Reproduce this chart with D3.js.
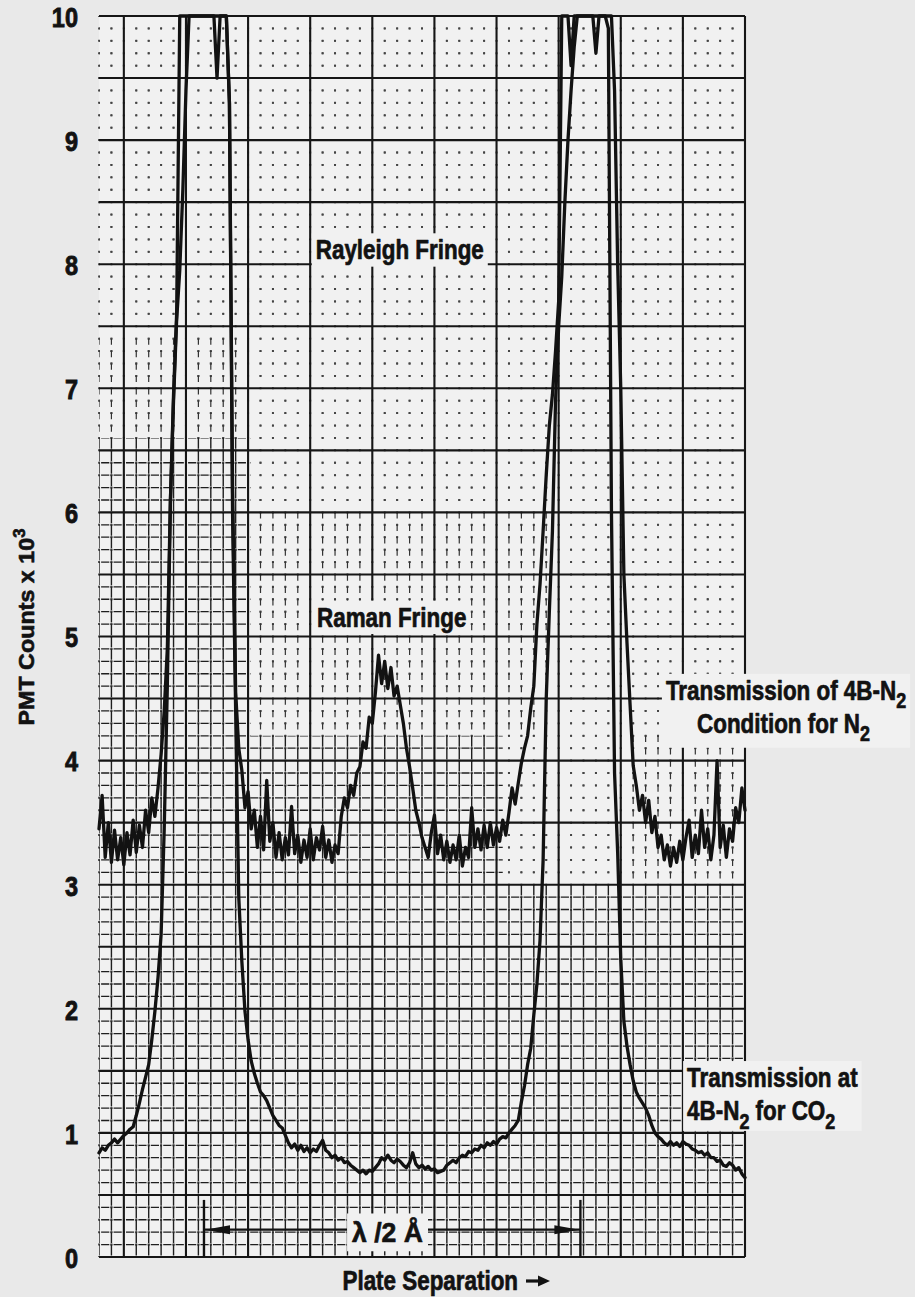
<!DOCTYPE html>
<html>
<head>
<meta charset="utf-8">
<script src="https://cdn.jsdelivr.net/npm/d3@7"></script>
<style>
  html, body { margin: 0; padding: 0; background: #e9e9e9; }
  svg { display: block; }
</style>
</head>
<body>
<svg id="chart" width="915" height="1297"></svg>
<script>
// Chart recorder trace: plate separation (chart divisions) vs PMT counts (x 1000).
// Both traces are sampled every quarter division, from 0 to 52 divisions.
const sampleStep = 0.25;
const sepMax = 52;
const countMax = 10;

// Transmission of the 4B-N2 condition for N2 (upper trace)
const n2Counts = [
  3.45, 3.72, 3.22, 3.50, 3.18, 3.44, 3.20, 3.38, 3.16, 3.42,
  3.24, 3.52, 3.26, 3.48, 3.30, 3.60, 3.42, 3.70, 3.55, 3.78,
  4.05, 4.40, 4.90, 6.10, 6.95, 7.60, 10, 10, 10, 10,
  10, 10, 10, 10, 10, 10, 10, 10, 10, 10,
  10, 10, 9.30, 6.20, 4.55, 4.10, 3.92, 3.62, 3.75, 3.45,
  3.60, 3.30, 3.55, 3.28, 3.84, 3.35, 3.50, 3.22, 3.42, 3.20,
  3.38, 3.24, 3.63, 3.25, 3.40, 3.18, 3.36, 3.22, 3.45, 3.20,
  3.38, 3.28, 3.47, 3.22, 3.36, 3.18, 3.32, 3.25, 3.55, 3.70,
  3.62, 3.80, 3.72, 3.90, 3.95, 4.15, 4.10, 4.35, 4.30, 4.55,
  4.85, 4.62, 4.80, 4.58, 4.75, 4.52, 4.60, 4.45, 4.30, 4.10,
  3.95, 3.78, 3.60, 3.50, 3.38, 3.30, 3.22, 3.42, 3.56, 3.25,
  3.40, 3.20, 3.35, 3.18, 3.32, 3.20, 3.40, 3.15, 3.30, 3.22,
  3.62, 3.30, 3.45, 3.28, 3.48, 3.30, 3.50, 3.32, 3.46, 3.35,
  3.52, 3.40, 3.58, 3.78, 3.65, 3.82, 3.98, 4.10, 4.20, 4.42,
  4.60, 5.10, 5.42, 5.85, 6.30, 6.70, 6.95, 7.30, 7.70, 10,
  10, 10, 9.60, 10, 10, 10, 10, 10, 10, 10,
  9.70, 10, 10, 10, 10, 10, 9.40, 8.00, 7.00, 5.50,
  4.95, 4.45, 3.96, 3.80, 3.60, 3.72, 3.50, 3.68, 3.42, 3.55,
  3.30, 3.40, 3.20, 3.32, 3.15, 3.30, 3.18, 3.35, 3.20, 3.38,
  3.52, 3.22, 3.40, 3.25, 3.60, 3.30, 3.45, 3.20, 3.40, 4.00,
  3.30, 3.48, 3.22, 3.45, 3.35, 3.62, 3.50, 3.78, 3.60
];

// Transmission at 4B-N2 for CO2 (lower trace)
const co2Counts = [
  0.84, 0.88, 0.86, 0.90, 0.92, 0.95, 0.92, 0.95, 0.98, 1.00,
  1.03, 1.05, 1.14, 1.24, 1.35, 1.45, 1.55, 1.75, 1.98, 2.25,
  2.60, 3.45, 4.60, 6.10, 6.90, 7.55, 7.95, 8.60, 9.40, 10,
  10, 10, 10, 10, 10, 10, 10, 10, 9.50, 10,
  10, 10, 9.30, 6.00, 4.40, 2.90, 2.38, 1.98, 1.75, 1.58,
  1.48, 1.40, 1.33, 1.30, 1.26, 1.20, 1.14, 1.10, 1.06, 1.04,
  0.98, 0.92, 0.88, 0.91, 0.86, 0.90, 0.85, 0.88, 0.84, 0.87,
  0.85, 0.90, 0.94, 0.86, 0.84, 0.80, 0.82, 0.78, 0.80, 0.76,
  0.77, 0.74, 0.72, 0.70, 0.68, 0.70, 0.67, 0.70, 0.69, 0.72,
  0.75, 0.80, 0.78, 0.82, 0.78, 0.76, 0.79, 0.77, 0.74, 0.72,
  0.76, 0.84, 0.75, 0.72, 0.74, 0.71, 0.73, 0.70, 0.71, 0.68,
  0.69, 0.70, 0.74, 0.76, 0.78, 0.76, 0.80, 0.82, 0.81, 0.85,
  0.84, 0.87, 0.86, 0.90, 0.88, 0.92, 0.90, 0.93, 0.91, 0.95,
  0.97, 0.96, 1.00, 1.03, 1.06, 1.10, 1.25, 1.38, 1.55, 1.68,
  1.95, 2.20, 2.55, 3.20, 4.50, 5.20, 5.85, 6.90, 7.50, 7.90,
  8.50, 9.00, 9.40, 9.75, 10, 10, 10, 10, 10, 10,
  10, 10, 10, 10, 9.90, 6.00, 3.90, 3.26, 2.40, 1.90,
  1.70, 1.55, 1.42, 1.33, 1.28, 1.24, 1.20, 1.14, 1.06, 1.00,
  0.97, 0.95, 0.92, 0.90, 0.93, 0.90, 0.92, 0.89, 0.93, 0.91,
  0.90, 0.87, 0.86, 0.84, 0.85, 0.82, 0.84, 0.80, 0.80, 0.77,
  0.78, 0.74, 0.73, 0.76, 0.74, 0.70, 0.72, 0.67, 0.64
];

const countTicks = [0, 1, 2, 3, 4, 5, 6, 7, 8, 9, 10];

// Rayleigh fringe centres bracketing one free spectral range (lambda/2)
const lambdaMarks = [8.45, 38.75];

// ---------------------------------------------------------------------------
const W = 915, H = 1297;
const margin = { top: 16, right: 170, bottom: 40, left: 99 };
const PAPER = '#f1f1f1';
const INK = '#121212';
const FONT = '"Liberation Sans", Arial, "DejaVu Sans", sans-serif';

const svg = d3.select('#chart');
const defs = svg.append('defs');

const x = d3.scaleLinear().domain([0, sepMax]).range([margin.left, W - margin.right]);
const y = d3.scaleLinear().domain([0, countMax]).range([H - margin.bottom, margin.top]);

svg.append('rect').attr('width', W).attr('height', H).attr('fill', '#e9e9e9');
svg.append('rect')
  .attr('x', x(0)).attr('y', y(countMax))
  .attr('width', x(sepMax) - x(0)).attr('height', y(0) - y(countMax))
  .attr('fill', PAPER);

// ---------------- chart paper grid ----------------
const sepLines = d3.range(0, sepMax + 1);                 // one line per division
const countLines = d3.range(0, countMax * 10 + 1).map(k => k / 10);
const isMajorSep = s => s >= 2 && (s - 2) % 5 === 0;
const isMajorCount = v => Math.round(v * 10) % 5 === 0;
const minorSep = sepLines.filter(s => !isMajorSep(s));
const minorCount = countLines.filter(v => !isMajorCount(v));
const majorSep = sepLines.filter(isMajorSep);
const majorCount = countLines.filter(isMajorCount);

const colPeriod = x(1) - x(0);
const rowPeriod = y(0) - y(0.1);

function clipFor(id, rects) {
  const cp = defs.append('clipPath').attr('id', id);
  rects.forEach(([s0, s1, v0, v1]) => {
    cp.append('rect')
      .attr('x', x(s0)).attr('y', y(v1))
      .attr('width', x(s1) - x(s0)).attr('height', y(v0) - y(v1));
  });
}
// areas where the fine rulings reproduce as lines rather than dots
clipFor('dense', [[0, 12.2, 0, 6.6], [12.2, 32.5, 0, 4.2], [32.5, sepMax, 0, 3.0]]);
clipFor('semi', [[12.2, 37, 4.2, 6.0], [0, 12.2, 6.6, 7.4], [42, sepMax, 3.0, 4.2]]);

const grid = svg.append('g');

// dotted fine rulings
const dot = 2;
const dots = grid.append('g').attr('stroke', '#444').attr('stroke-width', 1.8);
dots.selectAll('line.h').data(minorCount).join('line')
  .attr('x1', x(0)).attr('x2', x(sepMax))
  .attr('y1', d => y(d)).attr('y2', d => y(d))
  .attr('stroke-dasharray', `${dot} ${colPeriod - dot}`)
  .attr('stroke-dashoffset', dot / 2);
dots.selectAll('line.v').data(minorSep).join('line')
  .attr('x1', d => x(d)).attr('x2', d => x(d))
  .attr('y1', y(countMax)).attr('y2', y(0))
  .attr('stroke-dasharray', `${dot} ${rowPeriod - dot}`)
  .attr('stroke-dashoffset', dot / 2);

// solid-looking fine rulings
const dense = grid.append('g').attr('clip-path', 'url(#dense)').attr('stroke', '#1f1f1f');
dense.selectAll('line.h').data(minorCount).join('line')
  .attr('x1', x(0)).attr('x2', x(sepMax))
  .attr('y1', d => y(d)).attr('y2', d => y(d))
  .attr('stroke-width', 1.3)
  .attr('stroke-dasharray', `${colPeriod * 0.66} ${colPeriod * 0.34}`)
  .attr('stroke-dashoffset', -colPeriod * 0.17);
dense.selectAll('line.v').data(minorSep).join('line')
  .attr('x1', d => x(d)).attr('x2', d => x(d))
  .attr('y1', y(countMax)).attr('y2', y(0))
  .attr('stroke-width', 1.4)
  .attr('stroke-dasharray', `${rowPeriod * 0.88} ${rowPeriod * 0.12}`);

// partly reproduced vertical rulings
const semi = grid.append('g').attr('clip-path', 'url(#semi)').attr('stroke', '#333');
semi.selectAll('line.v').data(minorSep).join('line')
  .attr('x1', d => x(d)).attr('x2', d => x(d))
  .attr('y1', y(countMax)).attr('y2', y(0))
  .attr('stroke-width', 1.2)
  .attr('stroke-dasharray', `${rowPeriod * 0.5} ${rowPeriod * 0.5}`);

// heavy rulings every five divisions
const major = grid.append('g').attr('stroke', '#161616').attr('stroke-width', 2.1);
major.selectAll('line.h').data(majorCount).join('line')
  .attr('x1', x(0)).attr('x2', x(sepMax))
  .attr('y1', d => y(d)).attr('y2', d => y(d));
major.selectAll('line.v').data(majorSep).join('line')
  .attr('x1', d => x(d)).attr('x2', d => x(d))
  .attr('y1', y(countMax)).attr('y2', y(0));

// ---------------- text helper (condensed bold lettering) ----------------
function label(parent, px, py, parts, opt) {
  const outer = parent.append('g');
  const inner = outer.append('g')
    .attr('transform', `translate(${px},${py}) rotate(${opt.rotate || 0}) scale(${opt.sx},1)`);
  const t = inner.append('text')
    .attr('font-family', FONT).attr('font-weight', 'bold')
    .attr('font-size', opt.size).attr('fill', INK)
    .attr('stroke', INK).attr('stroke-width', opt.weight || 0.7)
    .attr('stroke-linejoin', 'round')
    .attr('text-anchor', opt.anchor || 'start');
  let shift = 0;
  parts.forEach(p => {
    const ts = t.append('tspan').text(p.t);
    let target = 0;
    if (p.sub) { ts.attr('font-size', opt.size * 0.8); target = opt.size * 0.3; }
    if (p.sup) { ts.attr('font-size', opt.size * 0.72); target = -opt.size * 0.42; }
    if (target !== shift) { ts.attr('dy', target - shift); shift = target; }
  });
  if (opt.box) {
    const bb = outer.node().getBBox();
    const pad = opt.pad || 4;
    outer.insert('rect', ':first-child')
      .attr('x', bb.x - pad).attr('y', bb.y - pad + 2)
      .attr('width', bb.width + 2 * pad).attr('height', bb.height + 2 * pad - 4)
      .attr('fill', opt.box);
  }
  return outer;
}

const LBL = { size: 27, sx: 0.83 };
const notes = svg.append('g');

// ---------------- traces ----------------
const trace = d3.line()
  .x((d, i) => x(i * sampleStep))
  .y(d => y(d));

// ---------------- annotations ----------------
label(notes, x(17.45), y(8.04), [{ t: 'Rayleigh Fringe' }], { ...LBL, box: PAPER });
label(notes, x(17.55), y(5.08), [{ t: 'Raman Fringe' }], { ...LBL, box: PAPER });

const n2Lbl = notes.append('g');
label(n2Lbl, x(55.3), y(4.49), [{ t: 'Transmission of 4B-N' }, { t: '2', sub: true }], { ...LBL, anchor: 'middle' });
label(n2Lbl, x(55.1), y(4.22), [{ t: 'Condition for N' }, { t: '2', sub: true }], { ...LBL, anchor: 'middle' });
{
  const bb = n2Lbl.node().getBBox();
  n2Lbl.insert('rect', ':first-child')
    .attr('x', bb.x - 4).attr('y', bb.y - 2).attr('width', bb.width + 8).attr('height', bb.height + 4)
    .attr('fill', PAPER);
}

const co2Lbl = notes.append('g');
label(co2Lbl, x(47.34), y(1.37), [{ t: 'Transmission at' }], LBL);
label(co2Lbl, x(47.34), y(1.10), [{ t: '4B-N' }, { t: '2', sub: true }, { t: ' for CO' }, { t: '2', sub: true }], LBL);
{
  const bb = co2Lbl.node().getBBox();
  co2Lbl.insert('rect', ':first-child')
    .attr('x', bb.x - 4).attr('y', bb.y - 2).attr('width', bb.width + 8).attr('height', bb.height)
    .attr('fill', PAPER);
}

// lambda/2 spacing bracket
const arrowV = 0.22, barTop = 0.46;
const bracket = notes.append('g').attr('stroke', INK);
bracket.selectAll('line.bar').data(lambdaMarks).join('line')
  .attr('x1', d => x(d)).attr('x2', d => x(d))
  .attr('y1', y(0)).attr('y2', y(barTop))
  .attr('stroke-width', 2.4);
bracket.append('line')
  .attr('x1', x(lambdaMarks[0])).attr('x2', x(lambdaMarks[1]))
  .attr('y1', y(arrowV)).attr('y2', y(arrowV))
  .attr('stroke-width', 2.2);
const headLen = 25, headHalf = 4.5;
bracket.selectAll('path.head').data(lambdaMarks).join('path')
  .attr('fill', INK).attr('stroke', 'none')
  .attr('d', (d, i) => {
    const tip = x(d) + (i === 0 ? 1 : -1);
    const base = tip + (i === 0 ? headLen : -headLen);
    const yy = y(arrowV);
    return `M${tip},${yy}L${base},${yy - headHalf}L${base},${yy + headHalf}Z`;
  });
label(notes, x(20.37), y(0.12), [{ t: 'λ /2 Å' }], { size: 28, sx: 0.95, box: PAPER, pad: 5 });

// ---------------- axes ----------------
const yAxis = svg.append('g')
  .attr('transform', `translate(${x(0)},0)`)
  .call(d3.axisLeft(y).tickValues(countTicks).tickSize(0).tickPadding(21).tickFormat(d3.format('d')));
yAxis.select('.domain').remove();
const tickSx = 0.84;
yAxis.selectAll('.tick text')
  .attr('font-family', FONT).attr('font-weight', 'bold').attr('font-size', 28)
  .attr('fill', INK).attr('stroke', INK).attr('stroke-width', 0.9)
  .attr('dy', '0.37em')
  .attr('x', -21 / tickSx)
  .attr('transform', `scale(${tickSx},1)`);

label(svg, 34, 627, [{ t: 'PMT Counts x 10' }, { t: '3', sup: true }],
  { size: 22, sx: 1.06, rotate: -90, anchor: 'middle', weight: 0.6 });

// x axis title followed by a drawn arrow
const xTitle = label(svg, x(19.6), y(0) + 33, [{ t: 'Plate Separation' }], LBL);
{
  const bb = xTitle.node().getBBox();
  const ax = bb.x + bb.width + 8, ay = y(0) + 33 - 9;
  svg.append('line').attr('x1', ax).attr('x2', ax + 14).attr('y1', ay).attr('y2', ay)
    .attr('stroke', INK).attr('stroke-width', 3.2);
  svg.append('path').attr('fill', INK)
    .attr('d', `M${ax + 24},${ay}L${ax + 12},${ay - 5.5}L${ax + 12},${ay + 5.5}Z`);
}

// traces drawn over paper and lettering
const traces = svg.append('g')
  .attr('fill', 'none').attr('stroke', INK)
  .attr('stroke-linejoin', 'round').attr('stroke-linecap', 'round');
traces.append('path').attr('d', trace(co2Counts)).attr('stroke-width', 3.3);
traces.append('path').attr('d', trace(n2Counts)).attr('stroke-width', 3.3);
</script>
</body>
</html>
